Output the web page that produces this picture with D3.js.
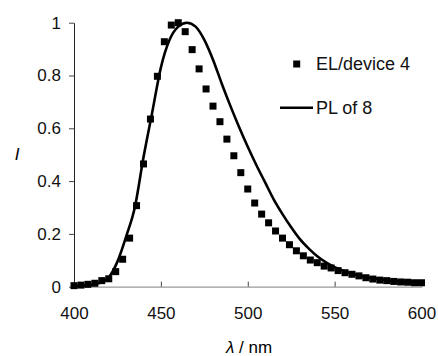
<!DOCTYPE html>
<html>
<head>
<meta charset="utf-8">
<script src="https://cdn.jsdelivr.net/npm/d3@7"></script>
<style>
  body { margin: 0; background: #fff; }
  svg { display: block; font-family: "Liberation Sans", Arial, sans-serif; }
</style>
</head>
<body>
<div id="chart"></div>
<script>
// EL/device 4 (squares), every 4 nm from 400 to 600
const elWavelengths = d3.range(400, 601, 4);
const elValues = [
  0.004, 0.006, 0.009, 0.013, 0.023, 0.030, 0.057, 0.104, 0.184, 0.307,
  0.465, 0.635, 0.797, 0.928, 0.991, 1.000, 0.966, 0.898, 0.825, 0.749,
  0.684, 0.625, 0.559, 0.496, 0.432, 0.370, 0.317, 0.275, 0.242, 0.211,
  0.184, 0.159, 0.136, 0.117, 0.101, 0.091, 0.078, 0.071, 0.061, 0.053,
  0.047, 0.041, 0.034, 0.029, 0.025, 0.023, 0.020, 0.018, 0.017, 0.015,
  0.015
];

// PL of 8 (solid line), every 5 nm
const plWavelengths = d3.range(400, 601, 5);
const plValues = [
  0.003, 0.004, 0.007, 0.015, 0.035, 0.095, 0.19, 0.30, 0.49, 0.66,
  0.83, 0.935, 0.985, 1.0, 0.985, 0.935, 0.86, 0.77, 0.685, 0.605,
  0.53, 0.46, 0.395, 0.33, 0.275, 0.225, 0.18, 0.145, 0.115, 0.092,
  0.074, 0.06, 0.049, 0.041, 0.034, 0.029, 0.025, 0.021, 0.018, 0.016,
  0.014
];

const xTicks = [400, 450, 500, 550, 600];
const yTicks = [0, 0.2, 0.4, 0.6, 0.8, 1];
const legendLabels = ["EL/device 4", "PL of 8"];

const W = 438, H = 356;
const plot = { left: 74, right: 421.5, top: 22.7, bottom: 286.7 };

const svg = d3.select("#chart").append("svg")
  .attr("width", W)
  .attr("height", H);

const x = d3.scaleLinear().domain([400, 600]).range([plot.left, plot.right]);
const y = d3.scaleLinear().domain([0, 1]).range([plot.bottom, plot.top]);

// x axis (gray line, ticks pointing up)
const xAxis = svg.append("g")
  .attr("transform", `translate(0,${plot.bottom})`)
  .call(d3.axisBottom(x).tickValues(xTicks).tickSizeInner(-5).tickSizeOuter(0).tickFormat(d3.format("d")));
xAxis.select(".domain").attr("stroke", "#999").attr("stroke-width", 1.2);
xAxis.selectAll(".tick line").attr("stroke", "#444");
xAxis.selectAll(".tick text")
  .attr("y", 26).attr("dy", "0.35em")
  .attr("font-size", 17).attr("fill", "#111")
  .attr("font-family", "Liberation Sans, Arial, sans-serif");

// y axis
const yAxis = svg.append("g")
  .attr("transform", `translate(${plot.left},0)`)
  .call(d3.axisLeft(y).tickValues(yTicks).tickSizeInner(5).tickSizeOuter(0)
    .tickFormat(d => String(+d.toFixed(1))));
yAxis.select(".domain").attr("stroke", "#222").attr("stroke-width", 1);
yAxis.selectAll(".tick line").attr("stroke", "#444");
yAxis.selectAll(".tick text")
  .attr("x", -13)
  .attr("font-size", 17).attr("fill", "#111")
  .attr("font-family", "Liberation Sans, Arial, sans-serif");

// axis titles
svg.append("text")
  .attr("x", 17).attr("y", 154).attr("dy", "0.35em")
  .attr("text-anchor", "middle")
  .attr("font-size", 17).attr("font-style", "italic")
  .text("I");

const xTitle = svg.append("text")
  .attr("x", 249).attr("y", 347).attr("dy", "0.35em")
  .attr("text-anchor", "middle")
  .attr("font-size", 17);
xTitle.append("tspan").attr("font-style", "italic").text("λ");
xTitle.append("tspan").text(" / nm");

// PL line
const line = d3.line()
  .x((d, i) => x(plWavelengths[i]))
  .y(d => y(d))
  .curve(d3.curveMonotoneX);

svg.append("path")
  .datum(plValues)
  .attr("fill", "none")
  .attr("stroke", "#000")
  .attr("stroke-width", 2.6)
  .attr("d", line);

// EL squares
const sq = 7;
svg.append("g").selectAll("rect")
  .data(elValues)
  .join("rect")
  .attr("x", (d, i) => x(elWavelengths[i]) - sq / 2)
  .attr("y", d => y(d) - sq / 2)
  .attr("width", sq)
  .attr("height", sq)
  .attr("fill", "#000");

// legend
const legend = svg.append("g");
legend.append("rect")
  .attr("x", 296.7 - sq / 2).attr("y", 64 - sq / 2)
  .attr("width", sq).attr("height", sq)
  .attr("fill", "#000");
legend.append("line")
  .attr("x1", 280).attr("x2", 313)
  .attr("y1", 107.7).attr("y2", 107.7)
  .attr("stroke", "#000").attr("stroke-width", 2.6);
legend.selectAll("text")
  .data(legendLabels)
  .join("text")
  .attr("x", 316)
  .attr("y", (d, i) => i === 0 ? 64 : 108)
  .attr("dy", "0.35em")
  .attr("font-size", 18)
  .attr("fill", "#111")
  .text(d => d);
</script>
</body>
</html>
